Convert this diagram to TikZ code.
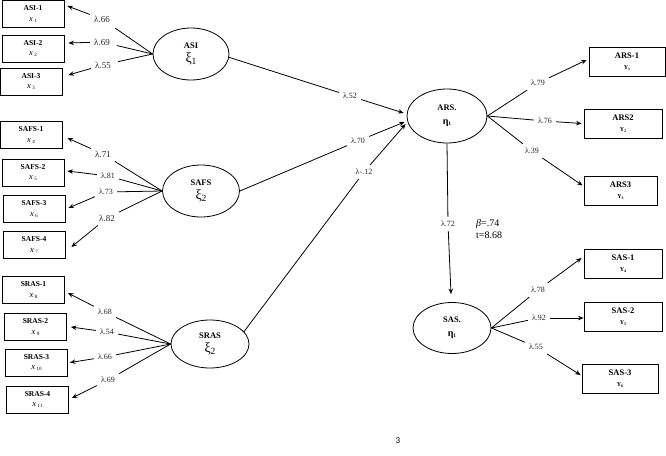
\documentclass[tikz,border=0pt]{standalone}
\usepackage{fontspec}
\setmainfont{Liberation Serif}
\newfontfamily\pagefont{Carlito}
\usetikzlibrary{shapes.geometric,arrows.meta,calc}
\newcommand\indtext[2]{\textbf{#1}\\{\fontsize{8.5}{8}\selectfont\textit{x}\,\raisebox{-1pt}{\fontsize{5}{5}\selectfont #2}}}
\newcommand\ytext[2]{\textbf{#1}\\{\fontsize{6}{6}\selectfont\textbf{Y}\raisebox{-0.8pt}{\fontsize{4}{4}\selectfont\textbf{#2}}}}
\newcommand\xitext[2]{\textbf{#1}\\{\fontsize{14}{14}\selectfont ξ}\raisebox{-1.5pt}{\fontsize{9.5}{9}\selectfont #2}}
\newcommand\etatext[1]{\textbf{#1}\\{\fontsize{10}{10}\selectfont\textbf{η}}\raisebox{-1pt}{\fontsize{5.5}{5}\selectfont\textbf{1}}}
\begin{document}
\begin{tikzpicture}[x=1pt,y=-1pt,
 ind/.style={draw, line width=0.8pt, minimum width=62pt, minimum height=27pt, inner sep=0pt, align=center, font=\fontsize{7.5}{10.5}\selectfont},
 indr/.style={draw, line width=0.8pt, minimum width=76pt, minimum height=29pt, inner sep=0pt, align=center, font=\fontsize{8.5}{11}\selectfont},
 lat/.style={draw, ellipse, line width=0.8pt, inner sep=0pt, align=center, font=\fontsize{8.5}{14}\selectfont},
 lam/.style={inner sep=4pt, font=\fontsize{9}{10}\selectfont, text=black!85},
 con/.style={line width=0.8pt},
 arr/.style={line width=0.8pt, -{Stealth[length=5.5pt,width=4.5pt]}},
]
\useasboundingbox (0,0) rectangle (666,455);
% left indicators
\node[ind] (x1) at (33,14) {\indtext{ASI-1}{1}};
\node[ind] (x2) at (33,48.5) {\indtext{ASI-2}{2}};
\node[ind] (x3) at (31,81.5) {\indtext{ASI-3}{3}};
\node[ind] (x4) at (31,135) {\indtext{SAFS-1}{4}};
\node[ind] (x5) at (33,172.5) {\indtext{SAFS-2}{5}};
\node[ind] (x6) at (34,209) {\indtext{SAFS-3}{6}};
\node[ind] (x7) at (34,245) {\indtext{SAFS-4}{7}};
\node[ind] (x8) at (33.5,290) {\indtext{SRAS-1}{8}};
\node[ind] (x9) at (35.5,327) {\indtext{SRAS-2}{9}};
\node[ind] (x10) at (36.5,362.5) {\indtext{SRAS-3}{10}};
\node[ind] (x11) at (37.5,399.5) {\indtext{SRAS-4}{11}};
% latent
\node[lat, minimum width=76pt, minimum height=52pt] (asi) at (191,54) {\xitext{ASI}{1}};
\node[lat, minimum width=77pt, minimum height=52pt] (safs) at (201,191) {\xitext{SAFS}{2}};
\node[lat, minimum width=78pt, minimum height=48pt] (sras) at (210,344) {\xitext{SRAS}{2}};
\node[lat, minimum width=80pt, minimum height=54pt] (ars) at (447,116) {\etatext{ARS.}};
\node[lat, minimum width=78pt, minimum height=51pt] (sas) at (452,328) {\etatext{SAS.}};
% right indicators
\node[indr] (y1) at (627,62) {\ytext{ARS-1}{1}};
\node[indr, minimum width=78pt] (y2) at (623,123.5) {\ytext{ARS2}{2}};
\node[indr, minimum width=73pt] (y3) at (620.5,190.5) {\ytext{ARS3}{3}};
\node[indr, minimum width=78pt] (y4) at (623,264) {\ytext{SAS-1}{4}};
\node[indr, minimum width=78pt] (y5) at (623,317) {\ytext{SAS-2}{5}};
\node[indr] (y6) at (620,379) {\ytext{SAS-3}{6}};
% labels
\node[lam] (l1) at (102,19) {λ.66};
\node[lam] (l2) at (102,42) {λ.69};
\node[lam] (l3) at (103,65) {λ.55};
\node[lam] (l4) at (103,154) {λ.71};
\node[lam, font=\fontsize{8}{9}\selectfont] (l5) at (108,176) {λ.81};
\node[lam, font=\fontsize{8}{9}\selectfont] (l6) at (106,192) {λ.73};
\node[lam] (l7) at (107,218) {λ.82};
\node[lam, font=\fontsize{8}{9}\selectfont] (l8) at (105,312) {λ.68};
\node[lam, font=\fontsize{8}{9}\selectfont] (l9) at (107,332) {λ.54};
\node[lam, font=\fontsize{8}{9}\selectfont] (l10) at (105,357) {λ.66};
\node[lam, font=\fontsize{8}{9}\selectfont] (l11) at (108,380) {λ.69};
\node[lam, font=\fontsize{8}{9}\selectfont] (l52) at (350,96) {λ.52};
\node[lam, font=\fontsize{8}{9}\selectfont] (l70) at (358,141) {λ.70};
\node[lam, font=\fontsize{8}{9}\selectfont] (l12) at (364,172) {λ-.12};
\node[lam, font=\fontsize{8}{9}\selectfont] (l72) at (448,224) {λ.72};
\node[lam, font=\fontsize{8}{9}\selectfont] (l79) at (538,83) {λ.79};
\node[lam, font=\fontsize{8}{9}\selectfont] (l76) at (545,121) {λ.76};
\node[lam, font=\fontsize{8}{9}\selectfont] (l39) at (532,151) {λ.39};
\node[lam, font=\fontsize{8}{9}\selectfont] (l78) at (538,290) {λ.78};
\node[lam, font=\fontsize{8}{9}\selectfont] (l92) at (539,318) {λ.92};
\node[lam, font=\fontsize{8}{9}\selectfont] (l55) at (536,347) {λ.55};
\node[anchor=west, align=left, inner sep=0pt, font=\fontsize{10}{11.5}\selectfont] (beta) at (476,229) {\textit{β}=.74\\t=8.68};
\node[font=\pagefont\fontsize{9}{10}\selectfont] (pg) at (398,441) {3};
% ASI
\draw[con, shorten >=3pt] (asi.west) -- (l1); \draw[arr] (l1) -- ($(x1.east)+(3,-8)$);
\draw[con, shorten >=3pt] (asi.west) -- (l2); \draw[arr] (l2) -- ($(x2.east)+(4,-5.5)$);
\draw[con, shorten >=3pt] (asi.west) -- (l3); \draw[arr] (l3) -- ($(x3.east)+(6,-6.5)$);
% SAFS
\draw[con] (safs.west) -- (l4); \draw[arr] (l4) -- ($(x4.east)+(5,3)$);
\draw[con] (safs.west) -- (l5); \draw[arr] (l5) -- ($(x5.east)+(3,-1.5)$);
\draw[con] (safs.west) -- (l6); \draw[arr] (l6) -- ($(x6.east)+(3,-1)$);
\draw[con] (safs.west) -- (l7); \draw[arr] (l7) -- ($(x7.east)+(6,2)$);
% SRAS
\draw[con] (sras.west) -- (l8); \draw[arr] (l8) -- ($(x8.east)+(3,3)$);
\draw[con] (sras.west) -- (l9); \draw[arr] (l9) -- ($(x9.east)+(4,0)$);
\draw[con] (sras.west) -- (l10); \draw[arr] (l10) -- ($(x10.east)+(2,0)$);
\draw[con] (sras.west) -- (l11); \draw[arr] (l11) -- ($(x11.east)+(3,-1.5)$);
% structural
\draw[con] (asi.-5) -- (l52); \draw[arr] (l52) -- ($(ars.west)+(-3,-3)$);
\draw[con] (safs.east) -- (l70); \draw[arr] (l70) -- ($(ars.west)+(-2,6)$);
\draw[con] (sras.20) -- (l12); \draw[arr] (l12) -- ($(ars.west)+(-1,8)$);
\draw[con] (ars.south) -- (l72); \draw[arr] (l72) -- ($(sas.north)+(-1,-8)$);
% ARS indicators
\draw[con] (ars.east) -- (l79); \draw[arr] (l79) -- ($(y1.west)+(-2,-2)$);
\draw[con] (ars.east) -- (l76); \draw[arr] (l76) -- ($(y2.west)+(-2,0)$);
\draw[con] (ars.east) -- (l39); \draw[arr] (l39) -- ($(y3.west)+(-1,-5)$);
% SAS indicators
\draw[con] (sas.east) -- (l78); \draw[arr] (l78) -- ($(y4.west)+(-2,-6)$);
\draw[con] (sas.east) -- (l92); \draw[arr] (l92) -- ($(y5.west)+(0,1)$);
\draw[con] (sas.east) -- (l55); \draw[arr] (l55) -- ($(y6.west)+(-1,-4)$);
\end{tikzpicture}
\end{document}
